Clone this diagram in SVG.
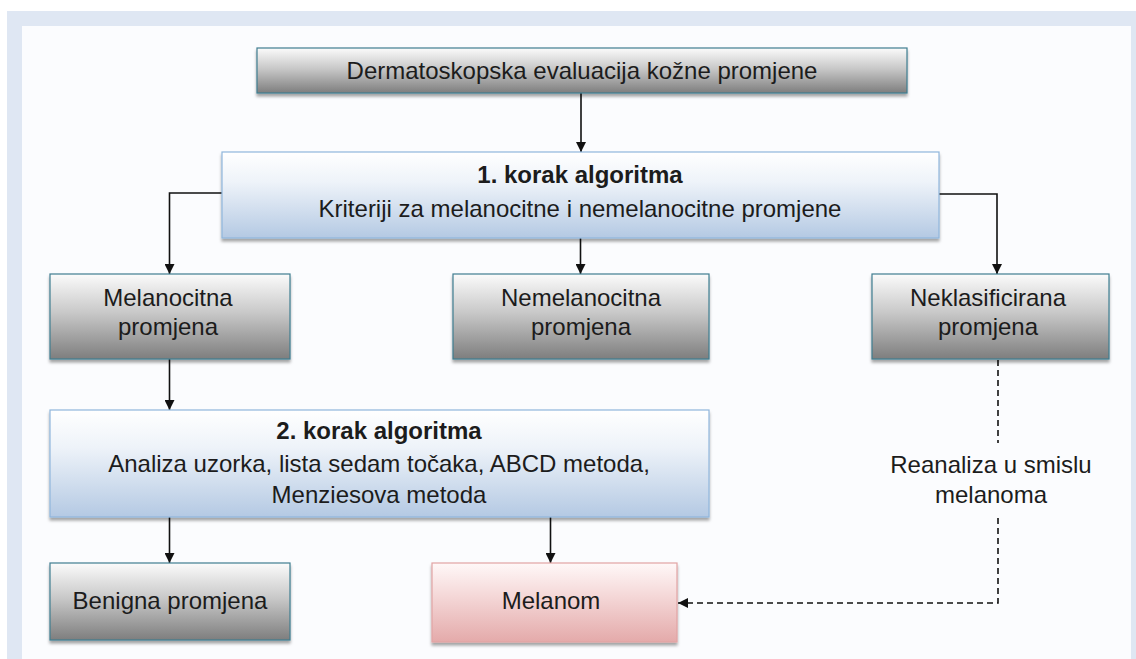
<svg xmlns="http://www.w3.org/2000/svg" width="1136" height="659" viewBox="0 0 1136 659">
<defs>
<linearGradient id="gGray" x1="0" y1="0" x2="0" y2="1">
<stop offset="0" stop-color="#fbfbfb"/>
<stop offset="0.45" stop-color="#c9c9c9"/>
<stop offset="1" stop-color="#7e7e7e"/>
</linearGradient>
<linearGradient id="gBlue" x1="0" y1="0" x2="0" y2="1">
<stop offset="0" stop-color="#ffffff"/>
<stop offset="0.35" stop-color="#eef3f9"/>
<stop offset="1" stop-color="#b4c9e3"/>
</linearGradient>
<linearGradient id="gPink" x1="0" y1="0" x2="0" y2="1">
<stop offset="0" stop-color="#fff8f8"/>
<stop offset="0.4" stop-color="#f5d9d9"/>
<stop offset="1" stop-color="#e4aaaa"/>
</linearGradient>
<filter id="sh" x="-5%" y="-10%" width="110%" height="130%">
<feDropShadow dx="0" dy="3" stdDeviation="1.8" flood-color="#000" flood-opacity="0.35"/>
</filter>
<marker id="arr" viewBox="0 0 10 10" refX="10" refY="5" markerWidth="10" markerHeight="10" markerUnits="userSpaceOnUse" orient="auto">
<path d="M0,0 L10,5 L0,10 z" fill="#111"/>
</marker>
</defs>
<style>
.gray{fill:url(#gGray);stroke:#3f7d90;stroke-width:1.2;filter:url(#sh)}
.blue{fill:url(#gBlue);stroke:#8fb6dc;stroke-width:1.2;filter:url(#sh)}
.pink{fill:url(#gPink);stroke:#e2a4a4;stroke-width:1.2;filter:url(#sh)}
text{font-family:"Liberation Sans",Arial,sans-serif;font-size:24px;fill:#1c1c1c;text-anchor:middle}
.b{font-weight:bold}
.c{fill:none;stroke:#111;stroke-width:1.6}
.d{fill:none;stroke:#111;stroke-width:1.6;stroke-dasharray:6 4}
</style>
<rect x="0" y="0" width="1136" height="659" fill="#ffffff"/>
<rect x="7" y="11" width="1129" height="648" fill="#dfe7f3"/>
<rect x="22" y="26" width="1109" height="633" fill="#fbfcfe"/>

<g id="connectors">
<path class="c" d="M581,93 V152" marker-end="url(#arr)"/>
<path class="c" d="M222,193 H169.5 V274" marker-end="url(#arr)"/>
<path class="c" d="M580.5,238 V274" marker-end="url(#arr)"/>
<path class="c" d="M939,194 H997 V274" marker-end="url(#arr)"/>
<path class="c" d="M169.5,359 V410" marker-end="url(#arr)"/>
<path class="c" d="M169.5,517 V563" marker-end="url(#arr)"/>
<path class="c" d="M550.5,517 V563" marker-end="url(#arr)"/>
<path class="d" d="M998,360 V443"/>
<path class="d" d="M998,518 V603 H678" marker-end="url(#arr)"/>
</g>

<g id="n-top">
<rect class="gray" x="257" y="48" width="650" height="45"/>
<text x="582" y="79">Dermatoskopska evaluacija kožne promjene</text>
</g>

<g id="n-step1">
<rect class="blue" x="222" y="152" width="717" height="86"/>
<text class="b" x="580" y="183">1. korak algoritma</text>
<text x="580" y="217">Kriteriji za melanocitne i nemelanocitne promjene</text>
</g>

<g id="n-melanocitna">
<rect class="gray" x="50" y="274" width="240" height="85"/>
<text x="168" y="306">Melanocitna</text>
<text x="168" y="335">promjena</text>
</g>

<g id="n-nemelanocitna">
<rect class="gray" x="453" y="274" width="256" height="85"/>
<text x="581" y="306">Nemelanocitna</text>
<text x="581" y="335">promjena</text>
</g>

<g id="n-neklasificirana">
<rect class="gray" x="872" y="274" width="237" height="85"/>
<text x="988" y="306">Neklasificirana</text>
<text x="988" y="335">promjena</text>
</g>

<g id="n-step2">
<rect class="blue" x="50" y="410" width="659" height="107"/>
<text class="b" x="379" y="439">2. korak algoritma</text>
<text x="379" y="472">Analiza uzorka, lista sedam točaka, ABCD metoda,</text>
<text x="379" y="503">Menziesova metoda</text>
</g>

<g id="n-benigna">
<rect class="gray" x="50" y="563" width="240" height="77"/>
<text x="170" y="609">Benigna promjena</text>
</g>

<g id="n-melanom">
<rect class="pink" x="432" y="563" width="245" height="79"/>
<text x="551" y="609">Melanom</text>
</g>

<g id="n-label">
<text x="991" y="473">Reanaliza u smislu</text>
<text x="991" y="503">melanoma</text>
</g>
</svg>
